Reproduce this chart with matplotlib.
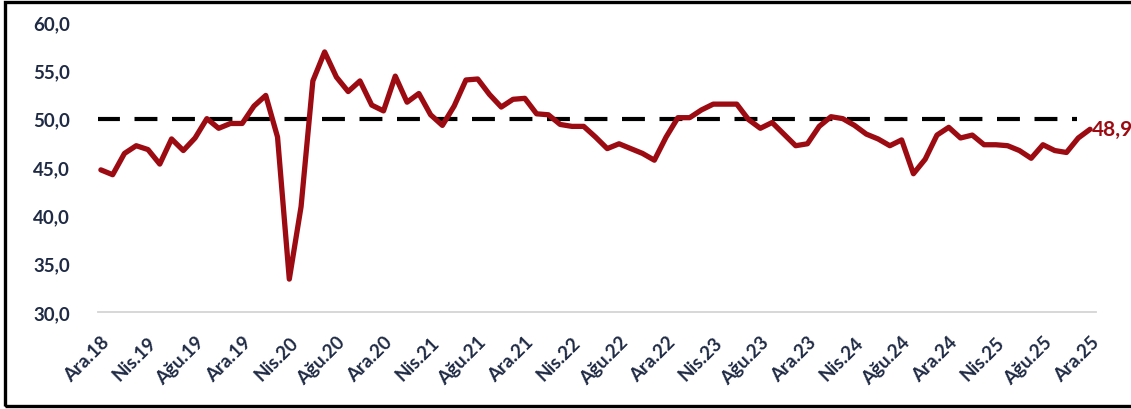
from matplotlib import pyplot as plt
from matplotlib.patches import Rectangle
import numpy as np

plt.rcParams['font.family'] = ['Lato', 'DejaVu Sans']

# monthly PMI values, Ara.18 - Ara.25
pmi_2018 = [44.7]
pmi_2019 = [44.2, 46.4, 47.2, 46.8, 45.3, 47.9, 46.7, 48.0, 50.0, 49.0, 49.5, 49.5]
pmi_2020 = [51.3, 52.4, 48.1, 33.4, 40.9, 53.9, 56.9, 54.3, 52.8, 53.9, 51.4, 50.8]
pmi_2021 = [54.4, 51.7, 52.6, 50.4, 49.3, 51.3, 54.0, 54.1, 52.5, 51.2, 52.0, 52.1]
pmi_2022 = [50.5, 50.4, 49.4, 49.2, 49.2, 48.1, 46.9, 47.4, 46.9, 46.4, 45.7, 48.1]
pmi_2023 = [50.1, 50.1, 50.9, 51.5, 51.5, 51.5, 49.9, 49.0, 49.6, 48.4, 47.2, 47.4]
pmi_2024 = [49.2, 50.2, 50.0, 49.3, 48.4, 47.9, 47.2, 47.8, 44.3, 45.8, 48.3, 49.1]
pmi_2025 = [48.0, 48.3, 47.3, 47.3, 47.2, 46.7, 45.9, 47.3, 46.7, 46.5, 48.0, 48.9]

months = ['Oca', 'Şub', 'Mar', 'Nis', 'May', 'Haz', 'Tem', 'Ağu', 'Eyl', 'Eki', 'Kas', 'Ara']
threshold = 50.0

pmi = pmi_2018 + pmi_2019 + pmi_2020 + pmi_2021 + pmi_2022 + pmi_2023 + pmi_2024 + pmi_2025
labels = ['Ara.18'] + [f"{m}.{y}" for y in range(19, 26) for m in months]
x = np.arange(len(pmi))

red = '#9c0b12'
navy = '#1f2a44'

fig = plt.figure(figsize=(11.31, 4.10), dpi=100)
ax = fig.add_axes([0.0866, 0.2366, 0.8824, 0.7074])

ax.plot(x, pmi, color=red, linewidth=3.8, solid_joinstyle='round',
        solid_capstyle='round', zorder=3)
ax.plot([x[0] - 0.3, x[-1] - 1.1], [threshold, threshold], color='black',
        linewidth=3.0, dashes=(5.5, 3.5), zorder=2)
ax.text(x[-1] + 0.2, pmi[-1], f"{pmi[-1]:.1f}".replace('.', ','), color=red,
        fontsize=15, fontweight='bold', va='center', ha='left', clip_on=False)

ax.set_xlim(-0.25, 84.5)
ax.set_ylim(30, 60)
ax.set_yticks(np.arange(30, 61, 5))
ax.set_yticklabels([f"{v:.1f}".replace('.', ',') for v in np.arange(30, 61, 5)])
ax.set_xticks(x[::4])
ax.set_xticklabels(labels[::4], rotation=45, ha='right', va='top', rotation_mode='anchor')

for s in ['top', 'right', 'left']:
    ax.spines[s].set_visible(False)
ax.spines['bottom'].set_color('#d4d4d4')
ax.spines['bottom'].set_linewidth(1.3)
ax.tick_params(axis='both', length=0, labelcolor=navy)
ax.tick_params(axis='y', pad=20, labelsize=13.5)
ax.tick_params(axis='x', pad=15, labelsize=13.5)
for t in ax.get_xticklabels() + ax.get_yticklabels():
    t.set_fontweight('bold')

# black frame around the picture
fig.patches.append(Rectangle((0.0045, 0.007), 1.2, 0.985, transform=fig.transFigure,
                             fill=False, edgecolor='black', linewidth=2.4))

plt.savefig('out.png')
plt.close()
